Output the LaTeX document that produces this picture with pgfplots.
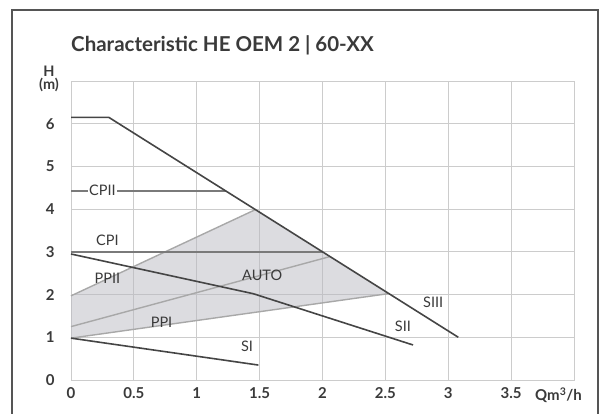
\documentclass[border=0pt]{standalone}
\usepackage{fontspec}
\setmainfont{Lato}
\usepackage{pgfplots}
\pgfplotsset{compat=1.18}
\definecolor{dk}{HTML}{454545}
\definecolor{md}{HTML}{7A7A7A}
\definecolor{lt}{HTML}{A8A8A8}
\definecolor{gr}{HTML}{CCCCCC}
\definecolor{sh}{HTML}{B9B9C1}
\definecolor{tx}{HTML}{3A3A3A}
\definecolor{fr}{HTML}{555555}
\begin{document}
\begin{tikzpicture}[x=1pt,y=1pt]
\useasboundingbox (0,0) rectangle (599,413);
\draw[fr, line width=2pt] (12,-5) -- (12,402.7) -- (597.7,402.7) -- (597.7,-5);
\node[anchor=base west, font=\fontsize{20.5}{24}\selectfont\bfseries, text=tx, inner sep=0pt] at (71,361.3) {Characteristic HE OEM 2 | 60-XX};
\node[anchor=base, font=\fontsize{14.5}{15}\selectfont\bfseries, text=tx, inner sep=0pt] at (49,336) {H};
\node[anchor=base, font=\fontsize{14.5}{15}\selectfont\bfseries, text=tx, inner sep=0pt] at (49,323) {(m)};
\begin{axis}[
  at={(71pt,33pt)}, anchor=origin,
  scale only axis, width=503pt, height=299pt,
  xmin=0, xmax=4, ymin=0, ymax=7,
  xtick={0,0.5,1,1.5,2,2.5,3,3.5},
  xticklabels={0,0.5,1,1.5,2,2.5,3,3.5},
  extra x ticks={4}, extra x tick labels={},
  ytick={0,1,2,3,4,5,6},
  yticklabels={0,1,2,3,4,5,6},
  grid=major,
  major grid style={gr, line width=1pt},
  axis line style={gr, line width=1pt},
  major tick length=0pt,
  tick label style={font=\fontsize{15}{16}\selectfont\bfseries, text=tx},
  xticklabel style={yshift=-4pt},
  yticklabel style={xshift=-13pt},
  no markers,
  clip=false,
]
\addplot[draw=none, fill=sh, fill opacity=0.5] coordinates {(0,0.98) (0,1.97) (1.46,3.98) (2.52,2.02) (0,0.98)};
\addplot[lt, line width=1.4pt] coordinates {(0,1.97) (1.46,3.98)};
\addplot[lt, line width=1.4pt] coordinates {(0,1.25) (2.06,2.89)};
\addplot[lt, line width=1.4pt] coordinates {(0,0.98) (2.52,2.02)};
\addplot[md, line width=1.6pt] coordinates {(0,4.43) (1.23,4.43)};
\addplot[md, line width=1.6pt] coordinates {(0,3.0) (2.0,3.0)};
\addplot[dk, line width=1.6pt] coordinates {(0,6.15) (0.3,6.15) (3.08,1.0)};
\addplot[dk, line width=1.6pt] coordinates {(0,2.95) (1.45,2.02) (2.72,0.82)};
\addplot[dk, line width=1.6pt] coordinates {(0,0.98) (1.49,0.35)};
\begin{scope}[every node/.style={font=\fontsize{14.5}{15}\selectfont, text=tx}]
\node[fill=white, inner sep=1.5pt] at (axis cs:0.25,4.43) {CPII};
\node at (axis cs:0.29,3.28) {CPI};
\node at (axis cs:0.29,2.39) {PPII};
\node at (axis cs:1.52,2.46) {AUTO};
\node at (axis cs:0.72,1.36) {PPI};
\node at (axis cs:1.40,0.78) {SI};
\node at (axis cs:2.64,1.26) {SII};
\node at (axis cs:2.88,1.83) {SIII};
\end{scope}
\node[anchor=east, font=\fontsize{15}{16}\selectfont\bfseries, text=tx, inner sep=0pt] at (axis cs:4,0) [xshift=8pt, yshift=-15pt] {Qm\textsuperscript{3}/h};
\end{axis}
\end{tikzpicture}
\end{document}
